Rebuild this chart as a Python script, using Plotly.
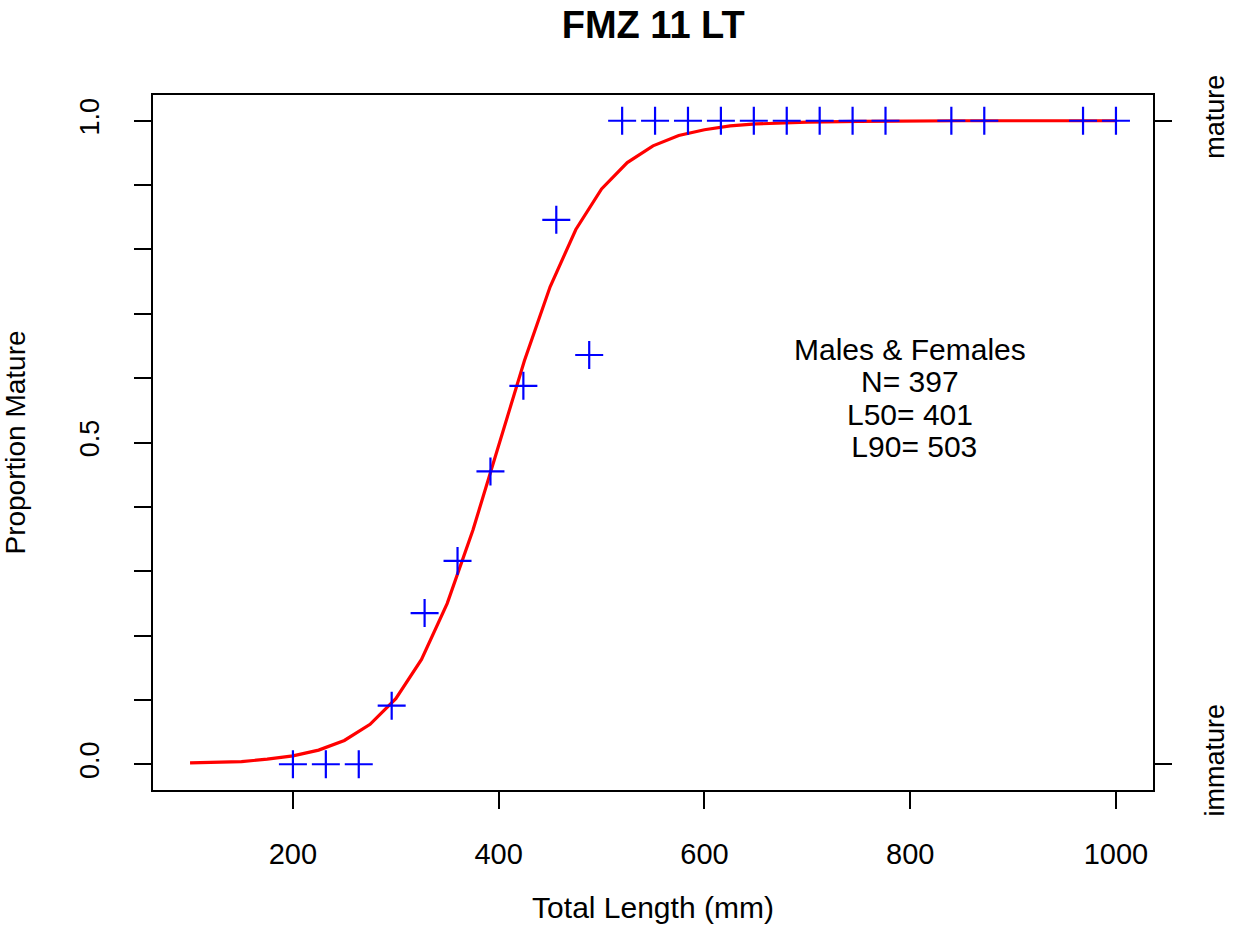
import plotly.graph_objects as go

# Observed data (bin midpoints, proportion mature)
lengths = [200, 232, 264, 296, 328, 360, 392, 424, 456, 488, 520, 552, 584,
           616, 648, 680, 712, 744, 776, 840, 872, 968, 1000]
prop_mature = [0.0, 0.0, 0.0, 0.091, 0.235, 0.316, 0.455, 0.588, 0.846, 0.636,
               1.0, 1.0, 1.0, 1.0, 1.0, 1.0, 1.0, 1.0, 1.0, 1.0, 1.0, 1.0, 1.0]

# Fitted curve
curve_x = [100, 125, 150, 175, 200, 225, 250, 275, 300, 325, 350, 375, 400,
           425, 450, 475, 500, 525, 550, 575, 600, 625, 650, 675, 700,
           750, 800, 850, 900, 950, 1000]
curve_y = [0.002, 0.003, 0.004, 0.008, 0.013, 0.022, 0.037, 0.062, 0.102,
           0.163, 0.250, 0.364, 0.495, 0.627, 0.742, 0.831, 0.894, 0.935,
           0.961, 0.977, 0.986, 0.992, 0.995, 0.997, 0.998,
           0.999, 1.0, 1.0, 1.0, 1.0, 1.0]

x_ticks = [200, 400, 600, 800, 1000]
y_ticks = [0.0, 0.1, 0.2, 0.3, 0.4, 0.5, 0.6, 0.7, 0.8, 0.9, 1.0]
y_ticktext = ["0.0", "", "", "", "", "0.5", "", "", "", "", "1.0"]
right_ticks = [0, 1]
right_labels = ["immature", "mature"]

title_text = "FMZ 11 LT"
info_lines = ["Males & Females", "N= 397", "L50= 401", " L90= 503"]

FONT = "Liberation Sans, Arial, sans-serif"

fig = go.Figure()
fig.add_trace(go.Scatter(
    x=curve_x, y=curve_y, mode="lines",
    line=dict(color="#ff0000", width=3.2), showlegend=False, hoverinfo="skip"))
fig.add_trace(go.Scatter(
    x=lengths, y=prop_mature, mode="markers",
    marker=dict(symbol="cross-thin", size=20, line=dict(color="#0000ff", width=2.2)),
    showlegend=False))
# dummy trace for the right axis
fig.add_trace(go.Scatter(x=[None], y=[None], yaxis="y2", showlegend=False, hoverinfo="skip"))

axis_common = dict(showgrid=False, zeroline=False, ticks="outside", ticklen=17,
                   tickwidth=2, tickcolor="black", linecolor="black", linewidth=2,
                   showline=True, automargin=False)

fig.update_layout(
    width=1236, height=938,
    margin=dict(l=153, r=83, t=95, b=148),
    paper_bgcolor="white", plot_bgcolor="white",
    font=dict(family=FONT, color="black"),
    title=dict(text="<b>" + title_text + "</b>", x=0.5285, xanchor="center",
               y=1 - 25 / 938, yanchor="middle", yref="container",
               font=dict(family=FONT, size=38, color="black")),
    xaxis=dict(range=[64, 1036], tickvals=x_ticks, mirror=True,
               ticklabelstandoff=20,
               tickfont=dict(family=FONT, size=29, color="black"),
               title=dict(text="Total Length (mm)", standoff=28,
                          font=dict(family=FONT, size=30, color="black")),
               **axis_common),
    yaxis=dict(range=[-0.04, 1.04], tickvals=y_ticks, ticktext=y_ticktext,
               tickangle=-90, mirror=True, ticklabelstandoff=24,
               tickfont=dict(family=FONT, size=27, color="black"),
               title=dict(text="Proportion Mature", standoff=42,
                          font=dict(family=FONT, size=28, color="black")),
               **axis_common),
    yaxis2=dict(range=[-0.04, 1.04], overlaying="y", side="right",
                tickvals=right_ticks, ticktext=right_labels, tickangle=-90,
                ticklabelstandoff=20,
                tickfont=dict(family=FONT, size=27, color="black"),
                **axis_common),
)

line_y = [349, 381, 414, 446]
for txt, py in zip(info_lines, line_y):
    fig.add_annotation(
        x=(910 - 153) / 1000, xref="paper",
        y=1 - (py - 95) / 695, yref="paper",
        text=txt, showarrow=False, xanchor="center", yanchor="middle",
        font=dict(family=FONT, size=30, color="black"))

fig.write_html("out.html")
